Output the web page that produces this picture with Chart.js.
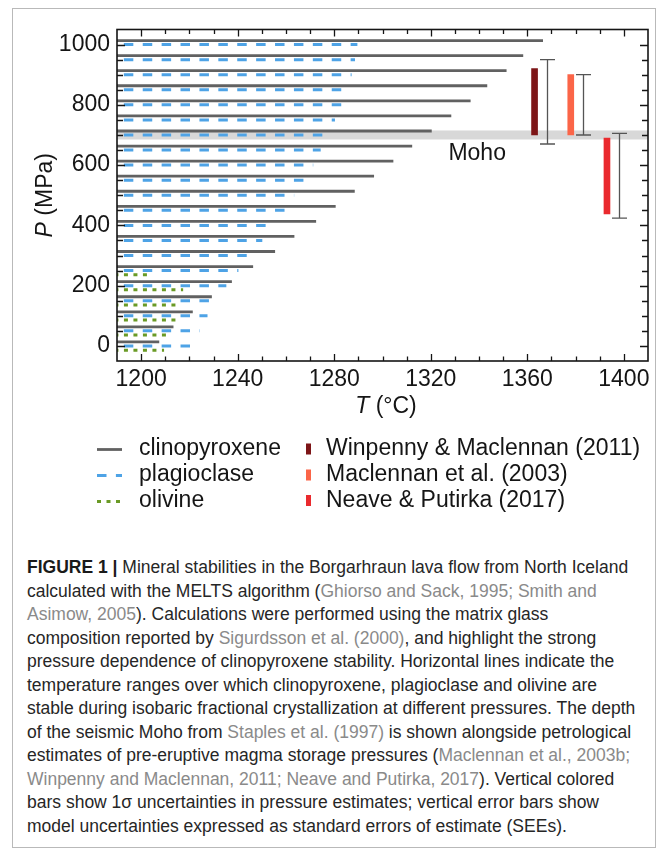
<!DOCTYPE html>
<html>
<head>
<meta charset="utf-8">
<title>Borgarhraun mineral stabilities</title>
<script src="https://cdn.jsdelivr.net/npm/chart.js@4.4.1/dist/chart.umd.min.js"></script>
<style>
  html, body { margin: 0; padding: 0; background: #fff; }
  #fig { position: relative; width: 668px; height: 856px; overflow: hidden; }
  #frame { position: absolute; left: 12px; top: 8px; width: 642px; height: 838px; border: 1px solid #b9b9b9; }
  #plot { position: absolute; left: 0; top: 0; width: 668px; height: 530px; }
  #caption {
    position: absolute; left: 27px; top: 556px;
    font-family: "Liberation Sans", Arial, sans-serif;
    font-size: 17.5px; line-height: 23.5px; color: #262626; white-space: nowrap;
  }
  #caption .ref { color: #8a8a8a; }
  #caption b { color: #1a1a1a; }
</style>
</head>
<body>
<div id="fig">
  <div id="frame"></div>
  <div id="plot"><canvas id="chart"></canvas></div>
  <div id="caption">
    <b>FIGURE 1 |</b> Mineral stabilities in the Borgarhraun lava flow from North Iceland<br>
    calculated with the MELTS algorithm (<span class="ref">Ghiorso and Sack, 1995; Smith and</span><br>
    <span class="ref">Asimow, 2005</span>). Calculations were performed using the matrix glass<br>
    composition reported by <span class="ref">Sigurdsson et al. (2000)</span>, and highlight the strong<br>
    pressure dependence of clinopyroxene stability. Horizontal lines indicate the<br>
    temperature ranges over which clinopyroxene, plagioclase and olivine are<br>
    stable during isobaric fractional crystallization at different pressures. The depth<br>
    of the seismic Moho from <span class="ref">Staples et al. (1997)</span> is shown alongside petrological<br>
    estimates of pre-eruptive magma storage pressures (<span class="ref">Maclennan et al., 2003b;</span><br>
    <span class="ref">Winpenny and Maclennan, 2011; Neave and Putirka, 2017</span>). Vertical colored<br>
    bars show 1σ uncertainties in pressure estimates; vertical error bars show<br>
    model uncertainties expressed as standard errors of estimate (SEEs).
  </div>
</div>

<script>
// ---- MELTS isobaric runs -------------------------------------------------
// Pressure of each run (MPa)
const pressures = [0, 50, 100, 150, 200, 250, 300, 350, 400, 450, 500,
                   550, 600, 650, 700, 750, 800, 850, 900, 950, 1000];
// Highest temperature (°C) at which each phase is stable, per run
const cpxMaxT  = [1207.5, 1213.4, 1221.4, 1229.3, 1237.6, 1246.4, 1255.5, 1263.5, 1272.5, 1280.6, 1288.5,
                  1296.5, 1304.5, 1312.3, 1320.4, 1328.5, 1336.5, 1343.4, 1351.4, 1358.3, 1366.5];
const plagMaxT = [1223.3, 1224.3, 1227.5, 1230.4, 1235.3, 1240.3, 1245.4, 1250.2, 1254.4, 1259.5, 1263.4,
                  1267.5, 1271.3, 1274.4, 1277.4, 1280.3, 1283.4, 1285.4, 1287.2, 1288.6, 1289.6];
// Olivine only crystallises in the low-pressure runs
const olPressures = [0, 50, 100, 150, 200, 250];
const olMaxT      = [1209.5, 1211.6, 1214.4, 1216.4, 1217.4, 1204.3];
// Cool end of every run lies below the plotted range
const runMinT = 1185;

// ---- Petrological storage-pressure estimates (MPa) -----------------------
const studies   = ['Winpenny & Maclennan (2011)', 'Maclennan et al. (2003)', 'Neave & Putirka (2017)'];
const sigmaLow  = [700, 700, 438];
const sigmaHigh = [920, 900, 690];
const seeLow    = [670, 700, 424];
const seeHigh   = [950, 900, 705];
// Temperature columns used to place the bars and error bars side by side
const barColumnT = [1363, 1378, 1393];
const seeColumnT = [1368, 1383, 1398];

// ---- Seismic Moho --------------------------------------------------------
const mohoP = 700;
const mohoHalfWidth = 15;
const mohoLabelAt = [1327.3, 637];

// ---- Axes ----------------------------------------------------------------
const xTickLabels = [1200, 1240, 1280, 1320, 1360, 1400];
const yTickLabels = [0, 200, 400, 600, 800, 1000];

// ---- Styling -------------------------------------------------------------
const FONT = '"Liberation Sans", Arial, Helvetica, sans-serif';
const INK = '#151515';
const studyColors = ['#7d1517', '#fb6548', '#ea2a2e'];

// horizontal stability segments, one per run, separated by gaps
function runSegments(ps, maxT) {
  const pts = [];
  ps.forEach((p, i) => {
    pts.push({ x: runMinT, y: p }, { x: maxT[i], y: p }, { x: maxT[i], y: null });
  });
  return pts;
}

const lineBase = { type: 'line', pointRadius: 0, pointHoverRadius: 0, tension: 0,
                   spanGaps: false, borderCapStyle: 'butt', clip: 0, fill: false };

const datasets = [
  Object.assign({}, lineBase, { label: 'clinopyroxene', data: runSegments(pressures, cpxMaxT),
    borderColor: '#616161', borderWidth: 2.8, yShiftPx: -4 }),
  Object.assign({}, lineBase, { label: 'plagioclase', data: runSegments(pressures, plagMaxT),
    borderColor: '#4ea3e6', borderWidth: 3, borderDash: [9.5, 9.4], yShiftPx: 0 }),
  Object.assign({}, lineBase, { label: 'olivine', data: runSegments(olPressures, olMaxT),
    borderColor: '#6a9a25', borderWidth: 3, borderDash: [4, 5.5], yShiftPx: 4.2 })
];
studies.forEach((s, i) => {
  datasets.push({
    type: 'bar', label: s,
    data: [{ x: barColumnT[i], y: [sigmaLow[i], sigmaHigh[i]] }],
    backgroundColor: studyColors[i], borderWidth: 0, barThickness: 6, grouped: false
  });
});

function drawMixed(ctx, parts, cx, cy) {
  let total = 0;
  parts.forEach(p => {
    ctx.font = (p.italic ? 'italic ' : '') + '23px ' + FONT;
    p.w = ctx.measureText(p.text).width;
    total += p.w;
  });
  let x = cx - total / 2;
  parts.forEach(p => {
    ctx.font = (p.italic ? 'italic ' : '') + '23px ' + FONT;
    ctx.fillText(p.text, x, cy);
    x += p.w;
  });
}

const decor = {
  id: 'decor',
  beforeDatasetsDraw(chart) {
    const { ctx, chartArea: a, scales: { y } } = chart;
    const top = y.getPixelForValue(mohoP + mohoHalfWidth);
    const bot = y.getPixelForValue(mohoP - mohoHalfWidth);
    ctx.save();
    ctx.fillStyle = '#d8d8d8';
    ctx.fillRect(a.left, top, a.right - a.left, bot - top);
    ctx.restore();
  },
  beforeDatasetDraw(chart, args) {
    const ds = chart.data.datasets[args.index];
    chart.ctx.save();
    chart.ctx.translate(0, ds.yShiftPx || 0);
  },
  afterDatasetDraw(chart) {
    chart.ctx.restore();
  },
  afterDatasetsDraw(chart) {
    const { ctx, scales: { x, y } } = chart;
    ctx.save();
    ctx.strokeStyle = '#555';
    ctx.lineWidth = 1.3;
    seeLow.forEach((lo, i) => {
      const px = Math.round(x.getPixelForValue(seeColumnT[i])) + 0.5;
      const y1 = y.getPixelForValue(seeHigh[i]);
      const y2 = y.getPixelForValue(lo);
      ctx.beginPath();
      ctx.moveTo(px, y1); ctx.lineTo(px, y2);
      ctx.moveTo(px - 7.5, y1); ctx.lineTo(px + 7.5, y1);
      ctx.moveTo(px - 7.5, y2); ctx.lineTo(px + 7.5, y2);
      ctx.stroke();
    });
    ctx.restore();
  },
  afterDraw(chart) {
    const { ctx, chartArea: a, scales: { x, y } } = chart;
    ctx.save();

    // frame
    ctx.strokeStyle = INK;
    ctx.lineWidth = 1.6;
    ctx.strokeRect(a.left, a.top, a.right - a.left, a.bottom - a.top);

    // inward tick marks on all four sides
    ctx.lineWidth = 1.3;
    ctx.beginPath();
    x.ticks.forEach(t => {
      if (t.value < 1200 || t.value > 1400) return;
      const px = Math.round(x.getPixelForValue(t.value)) + 0.5;
      const len = xTickLabels.includes(t.value) ? 7 : 4.5;
      ctx.moveTo(px, a.bottom); ctx.lineTo(px, a.bottom - len);
      ctx.moveTo(px, a.top); ctx.lineTo(px, a.top + len);
    });
    y.ticks.forEach(t => {
      if (t.value < 0 || t.value > 1000) return;
      const py = Math.round(y.getPixelForValue(t.value)) + 0.5;
      const len = yTickLabels.includes(t.value) ? 8 : 6;
      ctx.moveTo(a.left, py); ctx.lineTo(a.left + len, py);
      ctx.moveTo(a.right, py); ctx.lineTo(a.right - len, py);
    });
    ctx.stroke();

    // Moho label
    ctx.fillStyle = INK;
    ctx.font = '23px ' + FONT;
    ctx.textBaseline = 'middle';
    ctx.textAlign = 'left';
    ctx.fillText('Moho', x.getPixelForValue(mohoLabelAt[0]), y.getPixelForValue(mohoLabelAt[1]));

    // axis titles
    drawMixed(ctx, [{ text: 'T', italic: true }, { text: ' (°C)' }], 386, 407);
    ctx.save();
    ctx.translate(46, (a.top + a.bottom) / 2);
    ctx.rotate(-Math.PI / 2);
    drawMixed(ctx, [{ text: 'P', italic: true }, { text: ' (MPa)' }], 0, 0);
    ctx.restore();

    // legend
    const rows = [449, 475, 500.5];
    ctx.font = '23px ' + FONT;
    const lines = chart.data.datasets.filter(d => d.type === 'line');
    const bars = chart.data.datasets.filter(d => d.type === 'bar');
    lines.forEach((ds, i) => {
      const yy = Math.round(rows[i]) + 0.5;
      ctx.strokeStyle = ds.borderColor;
      ctx.lineWidth = ds.borderWidth;
      ctx.setLineDash(ds.borderDash || []);
      ctx.beginPath();
      ctx.moveTo(97, yy); ctx.lineTo(122, yy);
      ctx.stroke();
      ctx.setLineDash([]);
      ctx.fillStyle = INK;
      ctx.fillText(ds.label, 139, rows[i]);
    });
    bars.forEach((ds, i) => {
      ctx.fillStyle = ds.backgroundColor;
      ctx.fillRect(306, rows[i] - 5.5, 5, 11);
      ctx.fillStyle = INK;
      ctx.fillText(ds.label, 326, rows[i]);
    });
    ctx.restore();
  }
};

new Chart(document.getElementById('chart'), {
  type: 'line',
  data: { datasets },
  plugins: [decor],
  options: {
    responsive: true,
    maintainAspectRatio: false,
    animation: false,
    events: [],
    layout: { padding: { left: 0, right: 20, top: 29.5, bottom: 109 } },
    plugins: { legend: { display: false }, tooltip: { enabled: false } },
    scales: {
      x: {
        type: 'linear', position: 'bottom', min: 1190, max: 1410, offset: false,
        grid: { display: false, drawTicks: false }, border: { display: false },
        ticks: {
          stepSize: 10, autoSkip: false, maxRotation: 0, minRotation: 0, padding: 5,
          color: INK, font: { family: FONT, size: 23 },
          callback: v => xTickLabels.includes(v) ? String(v) : ''
        },
        afterFit: s => { s.height = 60; }
      },
      y: {
        type: 'linear', position: 'left', min: -50, max: 1050,
        grid: { display: false, drawTicks: false }, border: { display: false },
        ticks: {
          stepSize: 50, autoSkip: false, padding: 7,
          color: INK, font: { family: FONT, size: 23 },
          callback: v => yTickLabels.includes(v) ? String(v) : ''
        },
        afterFit: s => { s.width = 117; }
      }
    }
  }
});
</script>
</body>
</html>
